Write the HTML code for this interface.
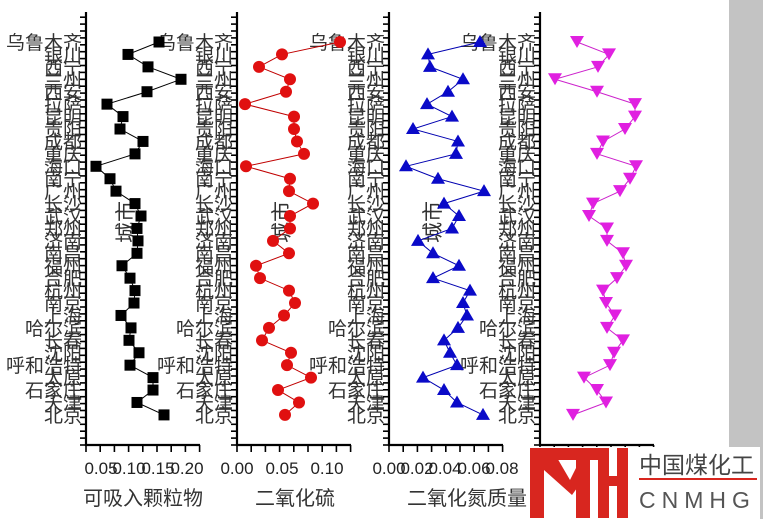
<!DOCTYPE html>
<html><head><meta charset="utf-8"><style>
html,body{margin:0;padding:0;background:#fff;}
svg{display:block;}
text{font-family:"Liberation Sans","Noto Sans CJK SC",sans-serif;}
</style></head><body>
<svg id="s" width="763" height="519" xmlns="http://www.w3.org/2000/svg">
<rect x="729" y="0" width="34" height="519" fill="#c3c3c3"/>
</svg>
<script>
const S=document.getElementById('s');const NS='http://www.w3.org/2000/svg';
function el(t,a,txt){const e=document.createElementNS(NS,t);for(const k in a)e.setAttribute(k,a[k]);if(txt!==undefined)e.textContent=txt;S.appendChild(e);return e;}
const cities=["乌鲁木齐","银川","西宁","兰州","西安","拉萨","昆明","贵阳","成都","重庆","海口","南宁","广州","长沙","武汉","郑州","济南","南昌","福州","合肥","杭州","南京","上海","哈尔滨","长春","沈阳","呼和浩特","太原","石家庄","天津","北京"];
const ry=i=>42+i*12.43;
const axes=[86,237,389,540];
const data=[
[159,128,148,181,147,107,123,120,143,135,96,110,116,135,141,137,138,137,122,130,135,134,121,131,129,139,130,153,153,137,164],
[340,282,259,290,286,245,294,294,297,304,246,290,289,313,290,290,273,289,256,260,289,295,284,269,262,291,287,311,278,299,285],
[480,428,430,463,448,427,452,413,458,456,406,438,484,444,459,452,418,433,459,433,470,463,467,458,444,450,457,423,444,457,483],
[577,609,598,555,597,635,635,625,603,597,636,630,620,593,589,607,607,623,626,617,603,606,615,607,623,614,610,584,597,606,573]];
axes.forEach(ax=>{cities.forEach((c,i)=>{el('text',{x:ax-4,y:ry(i)+7,'text-anchor':'end','font-size':19,fill:'#333'},c);});});
[133,289,440].forEach(x=>{el('text',{x:x,y:222,'font-size':21,fill:'#333','text-anchor':'middle',transform:`rotate(-90 ${x} 222)`},'城市');});
axes.forEach(ax=>{
 el('line',{x1:ax,y1:12,x2:ax,y2:446,stroke:'#000','stroke-width':2.2});
 el('line',{x1:ax-1,y1:445,x2:ax+114,y2:445,stroke:'#000','stroke-width':2.2});
 for(let y=445;y>=12;y-=6.9){el('line',{x1:ax-6,y1:y,x2:ax,y2:y,stroke:'#000','stroke-width':1.6});}
 for(let k=0;k<=8;k++){const x=ax+k*14.2;el('line',{x1:x,y1:445,x2:x,y2:452,stroke:'#000','stroke-width':1.6});}
});
const cols=['#000','#c00000','#0000b0','#cc22cc'];
data.forEach((d,p)=>{
 el('polyline',{points:d.map((x,i)=>x+','+ry(i)).join(' '),fill:'none',stroke:cols[p],'stroke-width':1});
 d.forEach((x,i)=>{const y=ry(i);
  if(p==0)el('rect',{x:x-5.5,y:y-5.5,width:11,height:11,fill:'#000'});
  if(p==1)el('circle',{cx:x,cy:y,r:6,fill:'#e01010'});
  if(p==2)el('polygon',{points:`${x},${y-7} ${x-7},${y+5} ${x+7},${y+5}`,fill:'#0a0ac8'});
  if(p==3)el('polygon',{points:`${x},${y+6} ${x-7},${y-6} ${x+7},${y-6}`,fill:'#e020e0'});
 });
});
const tl=(x,t)=>el('text',{x:x,y:474,'text-anchor':'middle','font-size':17,fill:'#222'},t);
[[101,'0.05'],[129,'0.10'],[158,'0.15'],[187,'0.20']].forEach(a=>tl(...a));
[[237,'0.00'],[282,'0.05'],[327,'0.10']].forEach(a=>tl(...a));
[[389,'0.00'],[417,'0.02'],[445,'0.04'],[474,'0.06'],[502,'0.08']].forEach(a=>tl(...a));
el('text',{x:143,y:505,'text-anchor':'middle','font-size':20,fill:'#333'},'可吸入颗粒物');
el('text',{x:295,y:505,'text-anchor':'middle','font-size':20,fill:'#333'},'二氧化硫');
el('text',{x:467,y:505,'text-anchor':'middle','font-size':20,fill:'#333'},'二氧化氮质量');
el('rect',{x:527,y:447,width:233,height:72,fill:'#fff'});
const R='#d8261f';
el('rect',{x:530,y:448,width:14,height:70,fill:R});
el('rect',{x:530,y:448,width:70,height:12,fill:R});
el('polygon',{points:'544,456 556,456 570,480 582,456 590,456 590,470 572,495 544,470',fill:R});
el('rect',{x:576,y:456,width:14,height:62,fill:R});
el('rect',{x:598,y:448,width:11,height:70,fill:R});
el('rect',{x:617,y:448,width:11,height:70,fill:R});
el('rect',{x:598,y:476,width:30,height:10,fill:R});
el('text',{x:639,y:473,'font-size':23,fill:'#444'},'中国煤化工');
el('rect',{x:639,y:478,width:118,height:2,fill:R});
el('text',{x:639,y:508,'font-size':23,fill:'#555','letter-spacing':'6'},'CNMHG');
</script>
</body></html>
